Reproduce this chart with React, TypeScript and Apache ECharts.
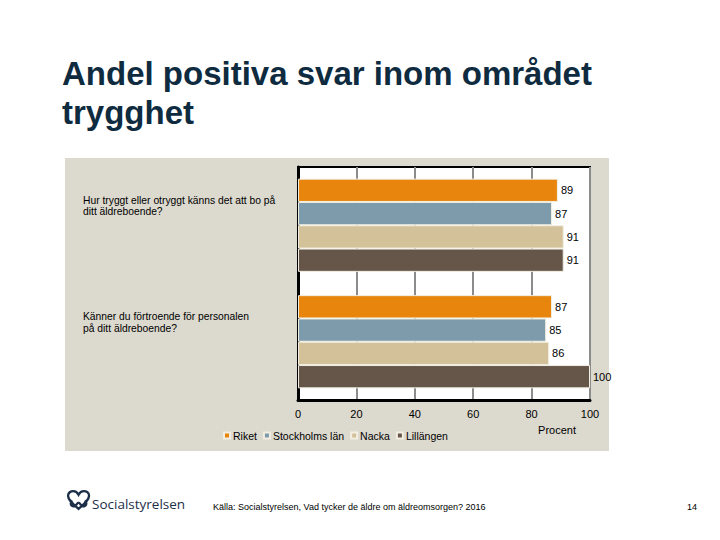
import React, { useEffect, useRef } from "react";
import * as echarts from "echarts";

const categories = [
  "Hur tryggt eller otryggt känns det att bo på\nditt äldreboende?",
  "Känner du förtroende för personalen\npå ditt äldreboende?",
];
const seriesNames = ["Riket", "Stockholms län", "Nacka", "Lillängen"];
const riket = [89, 87];
const stockholm = [87, 85];
const nacka = [91, 86];
const lillangen = [91, 100];
const xTicks = [0, 20, 40, 60, 80, 100];
const colors = ["#E8850C", "#7E9BAB", "#D3C299", "#655649"];

const FONT = "'Liberation Sans', Arial, sans-serif";

const logoPath =
  "M11 18 C4 12 1 9 1 5.5 C1 2.5 3.5 1 6 1 C8.2 1 10 2.5 11 4.5 C12 2.5 13.8 1 16 1 C18.5 1 21 2.5 21 5.5 C21 9 18 12 11 18 Z " +
  "M5 10 C3 12 3 15 6 15.5 C9 16 9 12.5 11 12 M11 12 C13 12.5 13 16 16 15.5 C19 15 19 12 17 10";

export default function App() {
  const ref = useRef<HTMLDivElement>(null);
  useEffect(() => {
    if (!ref.current) return;
    try {
      echarts.graphic.registerShape("logo", echarts.graphic.extendPath(logoPath, {}));
    } catch (e) {}
    const chart = echarts.init(ref.current, null, { renderer: "svg" });
    const allSeries = [riket, stockholm, nacka, lillangen];
    chart.setOption({
      animation: false,
      backgroundColor: "#ffffff",
      textStyle: { fontFamily: FONT },
      title: {
        text: "Andel positiva svar inom området\ntrygghet",
        left: 62,
        top: 54,
        padding: 0,
        textStyle: {
          fontFamily: FONT,
          fontSize: 33,
          fontWeight: "bold",
          color: "#0F2B40",
          lineHeight: 39,
        },
      },
      graphic: [
        {
          type: "rect",
          z: -10,
          silent: true,
          shape: { x: 65, y: 158, width: 544, height: 293 },
          style: { fill: "#DCD9CE" },
        },
        {
          type: "text",
          x: 557,
          y: 430,
          style: {
            text: "Procent",
            fontFamily: FONT,
            fontSize: 11,
            fill: "#000",
            align: "center",
            verticalAlign: "middle",
          },
        },
        {
          type: "logo",
          x: 67,
          y: 490,
          scaleX: 1.05,
          scaleY: 1.05,
          style: { fill: null, stroke: "#1D2F48", lineWidth: 2.2 },
        },
        {
          type: "text",
          x: 92,
          y: 504,
          style: {
            text: "Socialstyrelsen",
            fontFamily: "'Open Sans', sans-serif",
            fontSize: 13.5,
            fill: "#1D2F48",
            align: "left",
            verticalAlign: "middle",
          },
        },
        {
          type: "text",
          x: 213,
          y: 507,
          style: {
            text: "Källa: Socialstyrelsen, Vad tycker de äldre om äldreomsorgen? 2016",
            fontFamily: FONT,
            fontSize: 9,
            fill: "#000",
            align: "left",
            verticalAlign: "middle",
          },
        },
        {
          type: "text",
          x: 697,
          y: 507,
          style: {
            text: "14",
            fontFamily: FONT,
            fontSize: 9,
            fill: "#000",
            align: "right",
            verticalAlign: "middle",
          },
        },
      ],
      legend: {
        data: seriesNames,
        left: 223,
        top: 430,
        padding: 0,
        itemWidth: 6,
        itemHeight: 6,
        itemGap: 6,
        icon: "rect",
        textStyle: { fontFamily: FONT, fontSize: 10.5, color: "#000", padding: [0, 0, 0, -2] },
      },
      grid: {
        left: 298,
        top: 167,
        right: 130,
        bottom: 140,
        show: true,
        backgroundColor: "#ffffff",
        borderColor: "#000",
        borderWidth: 2,
      },
      xAxis: {
        type: "value",
        min: 0,
        max: 100,
        interval: 20,
        axisLine: { show: true, lineStyle: { color: "#000", width: 3 } },
        axisTick: { show: false },
        splitLine: { show: true, lineStyle: { color: "#8C8C8C", width: 2 } },
        axisLabel: {
          fontFamily: FONT,
          fontSize: 11,
          color: "#000",
          margin: 8,
          formatter: (v: number) => (xTicks.includes(v) ? String(v) : ""),
        },
      },
      yAxis: {
        type: "category",
        data: categories,
        inverse: true,
        axisLine: { show: true, lineStyle: { color: "#000", width: 3 } },
        axisTick: { show: false },
        splitLine: { show: false },
        axisLabel: {
          fontFamily: FONT,
          fontSize: 10.3,
          color: "#000",
          align: "left",
          verticalAlign: "bottom",
          lineHeight: 11.5,
          margin: 215,
          padding: [0, 0, 8, 0],
        },
      },
      series: seriesNames.map((name, i) => ({
        name,
        type: "bar",
        data: allSeries[i],
        barGap: "0%",
        barCategoryGap: "20%",
        itemStyle: { color: colors[i], borderColor: "#F2EEE2", borderWidth: 1 },
        label: {
          show: true,
          position: "right",
          distance: 3,
          fontFamily: FONT,
          fontSize: 11,
          color: "#000",
        },
      })),
    });
    return () => chart.dispose();
  }, []);
  return (
    <div
      ref={ref}
      style={{ position: "fixed", left: 0, top: 0, width: 720, height: 540 }}
    />
  );
}
